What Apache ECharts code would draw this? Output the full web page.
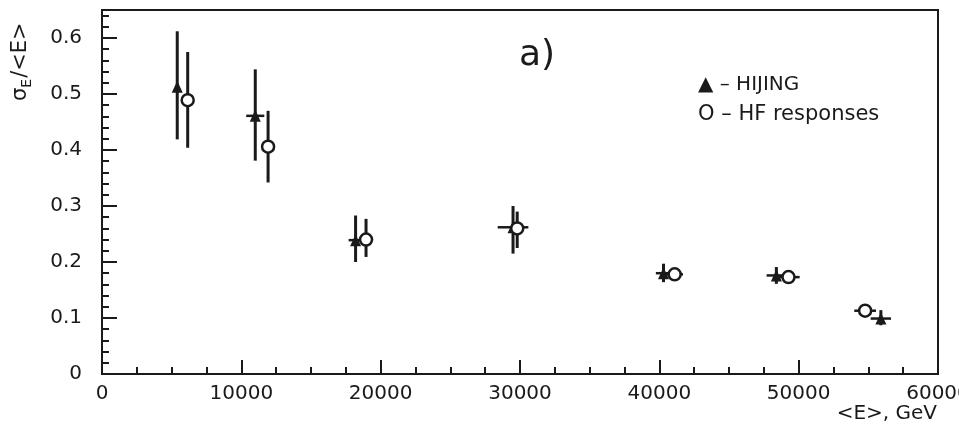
<!DOCTYPE html>
<html>
<head>
<meta charset="utf-8">
<script src="https://cdn.jsdelivr.net/npm/echarts@6/dist/echarts.min.js"></script>
<style>
  html, body { margin: 0; padding: 0; background: #fff; }
  #chart { width: 959px; height: 436px; }
</style>
</head>
<body>
<div id="chart"></div>
<script>
// Mean energy (GeV) and relative resolution for the two samples
const hijingE    = [5400, 11000, 18200, 29500, 40300, 48400, 55900];
const hijingRes  = [0.513, 0.461, 0.239, 0.262, 0.180, 0.176, 0.099];
const hijingLow  = [0.419, 0.381, 0.200, 0.215, 0.164, 0.161, 0.087];
const hijingHigh = [0.612, 0.544, 0.283, 0.300, 0.197, 0.191, 0.114];
const hijingEErr = [0, 650, 500, 1100, 550, 700, 730];

const hfE    = [6150, 11920, 18950, 29800, 41100, 49270, 54770];
const hfRes  = [0.489, 0.406, 0.240, 0.260, 0.178, 0.173, 0.113];
const hfLow  = [0.404, 0.342, 0.209, 0.225, 0.170, 0.165, 0.105];
const hfHigh = [0.575, 0.470, 0.277, 0.290, 0.186, 0.181, 0.121];
const hfEErr = [0, 0, 0, 0, 600, 800, 780];

const xTickLabels = ['0', '10000', '20000', '30000', '40000', '50000', '60000'];
const yTickLabels = ['0', '0.1', '0.2', '0.3', '0.4', '0.5', '0.6'];

const FONT = 'DejaVu Sans';
const INK = '#1a1a1a';

function errRows(E, R, lo, hi, eErr) {
  return E.map((e, i) => [e, R[i], e - eErr[i], e + eErr[i], lo[i], hi[i]]);
}

function renderErr(params, api) {
  const c = api.coord([api.value(0), api.value(1)]);
  const xl = api.coord([api.value(2), api.value(1)]);
  const xh = api.coord([api.value(3), api.value(1)]);
  const yl = api.coord([api.value(0), api.value(4)]);
  const yh = api.coord([api.value(0), api.value(5)]);
  const children = [
    { type: 'line', shape: { x1: c[0], y1: yl[1], x2: c[0], y2: yh[1] }, style: { stroke: INK, lineWidth: 3 } }
  ];
  if (xh[0] - xl[0] > 1) {
    children.push({ type: 'line', shape: { x1: xl[0], y1: c[1], x2: xh[0], y2: c[1] }, style: { stroke: INK, lineWidth: 2.5 } });
  }
  return { type: 'group', children: children };
}

const chart = echarts.init(document.getElementById('chart'), null, { renderer: 'canvas' });

chart.setOption({
  backgroundColor: '#ffffff',
  animation: false,
  grid: {
    left: 102, right: 21, top: 10, bottom: 62,
    outerBoundsMode: 'none', containLabel: false,
    show: true, borderColor: INK, borderWidth: 2, backgroundColor: 'transparent'
  },
  xAxis: {
    type: 'value', min: 0, max: 60000, interval: 10000,
    axisLine: { lineStyle: { color: INK, width: 2 } },
    axisTick: { inside: true, length: 14, lineStyle: { color: INK, width: 2 } },
    minorTick: { show: true, splitNumber: 4, length: 7, lineStyle: { color: INK, width: 2 } },
    splitLine: { show: false },
    axisLabel: {
      margin: 10, color: INK, fontFamily: FONT, fontSize: 20,
      formatter: v => xTickLabels[Math.round(v / 10000)] || ''
    }
  },
  yAxis: {
    type: 'value', min: 0, max: 0.65, interval: 0.1,
    axisLine: { lineStyle: { color: INK, width: 2 } },
    axisTick: { inside: true, length: 15, lineStyle: { color: INK, width: 2 } },
    minorTick: { show: true, splitNumber: 5, length: 7, lineStyle: { color: INK, width: 2 } },
    splitLine: { show: false },
    axisLabel: {
      margin: 20, color: INK, fontFamily: FONT, fontSize: 20, showMaxLabel: false,
      formatter: v => {
        const k = Math.round(v * 10);
        return Math.abs(v * 10 - k) < 1e-6 ? (yTickLabels[k] || '') : '';
      }
    }
  },
  graphic: [
    {
      type: 'text', x: 8, y: 101, rotation: Math.PI / 2,
      style: {
        text: '{s|σ}{sub|E}{s|/<E>}',
        fill: INK,
        rich: {
          s: { fontFamily: FONT, fontSize: 21, fill: INK },
          sub: { fontFamily: FONT, fontSize: 14, fill: INK, verticalAlign: 'bottom', padding: [12, 1, 0, 0] }
        }
      }
    },
    {
      type: 'text', right: 22, top: 404,
      style: { text: '<E>, GeV', fontFamily: FONT, fontSize: 20, fill: INK }
    },
    {
      type: 'text', left: 519, top: 38,
      style: { text: 'a)', fontFamily: FONT, fontSize: 36, fill: INK }
    },
    {
      type: 'text', left: 698, top: 75,
      style: { text: '▲ – HIJING', fontFamily: FONT, fontSize: 20, fill: INK }
    },
    {
      type: 'text', left: 698, top: 104,
      style: { text: 'O – HF responses', fontFamily: FONT, fontSize: 21, fill: INK }
    }
  ],
  series: [
    {
      name: 'HIJING errors', type: 'custom', renderItem: renderErr,
      data: errRows(hijingE, hijingRes, hijingLow, hijingHigh, hijingEErr), z: 2
    },
    {
      name: 'HF errors', type: 'custom', renderItem: renderErr,
      data: errRows(hfE, hfRes, hfLow, hfHigh, hfEErr), z: 2
    },
    {
      name: 'HIJING', type: 'scatter', symbol: 'triangle', symbolSize: [11, 12],
      itemStyle: { color: INK, opacity: 1 }, z: 4,
      data: hijingE.map((e, i) => [e, hijingRes[i]])
    },
    {
      name: 'HF responses', type: 'scatter', symbol: 'circle', symbolSize: 12,
      itemStyle: { color: '#ffffff', borderColor: INK, borderWidth: 2.5, opacity: 1 }, z: 5,
      data: hfE.map((e, i) => [e, hfRes[i]])
    }
  ]
});
</script>
</body>
</html>
